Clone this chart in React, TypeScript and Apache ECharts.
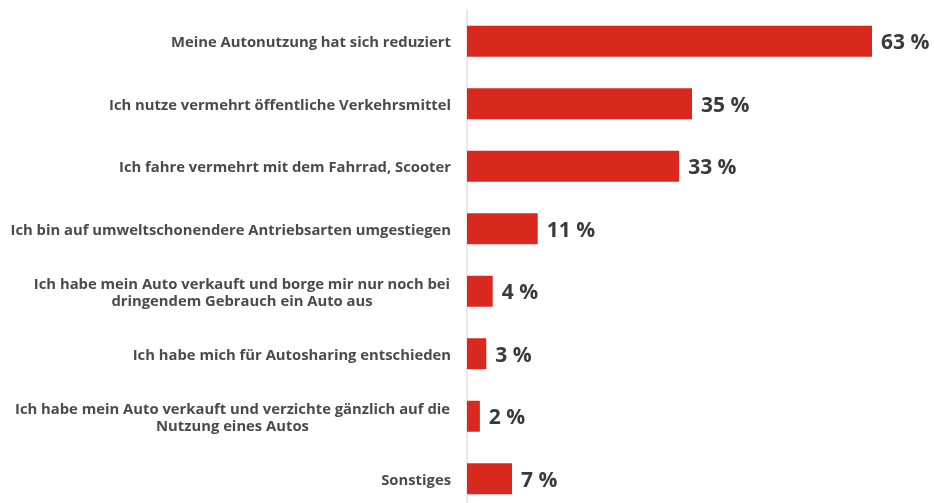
import { useEffect, useRef } from "react";
import * as echarts from "echarts";

const categories = [
  "Meine Autonutzung hat sich reduziert",
  "Ich nutze vermehrt öffentliche Verkehrsmittel",
  "Ich fahre vermehrt mit dem Fahrrad, Scooter",
  "Ich bin auf umweltschonendere Antriebsarten umgestiegen",
  "Ich habe mein Auto verkauft und borge mir nur noch bei\ndringendem Gebrauch ein Auto aus",
  "Ich habe mich für Autosharing entschieden",
  "Ich habe mein Auto verkauft und verzichte gänzlich auf die\nNutzung eines Autos",
  "Sonstiges",
];
const values = [63, 35, 33, 11, 4, 3, 2, 7];

const FONT_FAMILY = "'Open Sans', Lato, sans-serif";
const LABEL_SIZE = 14.8;
const LABEL_COLOR = "#4a4a4a";

export default function App() {
  const ref = useRef<HTMLDivElement>(null);
  useEffect(() => {
    if (!ref.current) return;
    const chart = echarts.init(ref.current, null, { renderer: "svg" });
    const canvas = document.createElement("canvas");
    const ctx = canvas.getContext("2d")!;
    ctx.font = `bold ${LABEL_SIZE}px ${FONT_FAMILY}`;

    const rich: Record<string, any> = {};
    categories.forEach((c, i) => {
      const lines = c.split("\n");
      const w = Math.max(...lines.map((l) => ctx.measureText(l).width));
      rich["c" + i] = {
        width: Math.ceil(w) + 1,
        align: "center",
        fontFamily: FONT_FAMILY,
        fontWeight: "bold",
        fontSize: LABEL_SIZE,
        color: LABEL_COLOR,
        lineHeight: 17,
      };
    });

    chart.setOption({
      animation: false,
      grid: { left: 467, right: 17, top: 10, bottom: 0, containLabel: false },
      xAxis: {
        type: "value",
        min: 0,
        max: 70,
        show: false,
        splitLine: { show: false },
      },
      yAxis: {
        type: "category",
        inverse: true,
        data: categories,
        axisLine: { show: true, lineStyle: { color: "#e2e2e2", width: 1.5 } },
        axisTick: { show: false },
        axisLabel: {
          margin: 16,
          align: "right",
          fontFamily: FONT_FAMILY,
          fontWeight: "bold",
          fontSize: LABEL_SIZE,
          color: LABEL_COLOR,
          lineHeight: 17,
          formatter: (value: string) => {
            const i = categories.indexOf(value);
            if (!value.includes("\n")) return value;
            return value
              .split("\n")
              .map((l) => `{c${i}|${l}}`)
              .join("\n");
          },
          rich,
        },
      },
      series: [
        {
          type: "bar",
          data: values,
          barWidth: 31,
          itemStyle: { color: "#d9281e" },
          label: {
            show: true,
            position: "right",
            distance: 9,
            formatter: (p: any) => `${p.value} %`,
            fontFamily: FONT_FAMILY,
            fontWeight: "bold",
            fontSize: 21,
            color: "#3a3a3a",
          },
        },
      ],
    });
    return () => chart.dispose();
  }, []);
  return (
    <div
      ref={ref}
      style={{ position: "fixed", left: 0, top: 0, width: 934, height: 510 }}
    />
  );
}
